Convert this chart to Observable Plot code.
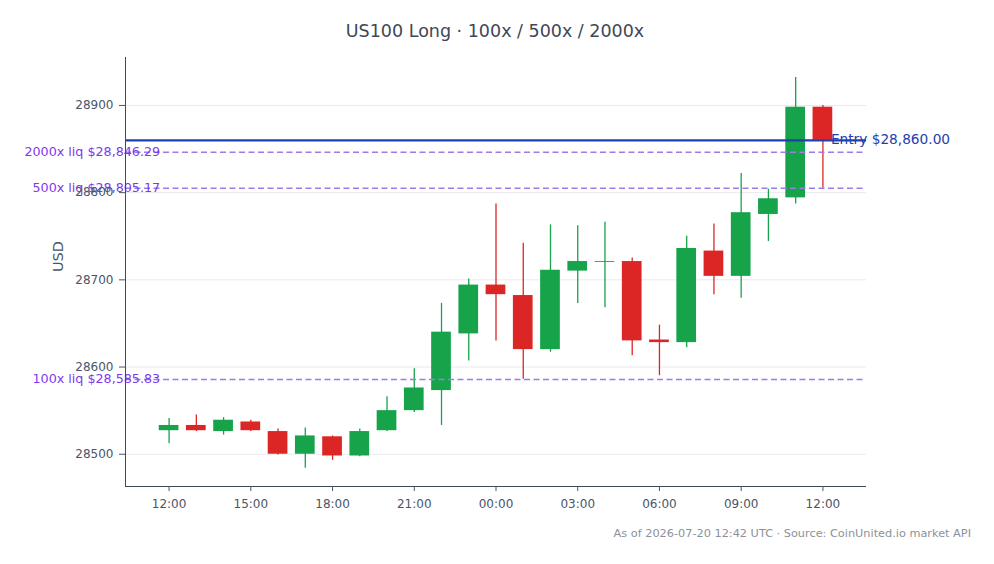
<!DOCTYPE html>
<html><head><meta charset="utf-8">
<script src="https://cdn.jsdelivr.net/npm/d3@7"></script>
<script src="https://cdn.jsdelivr.net/npm/@observablehq/plot@0.6"></script>
<style>
body{margin:0;background:#fff;font-family:"DejaVu Sans",sans-serif;}
#wrap{position:relative;width:994px;height:564px;overflow:hidden;background:#fff}
#title{position:absolute;left:0;width:990px;top:21px;text-align:center;font-size:17.5px;color:#3f4756;white-space:nowrap}
#cap{position:absolute;right:23px;top:527px;font-size:11.3px;color:#8b919a;white-space:nowrap}
#wrap svg{position:absolute;left:0;top:0}
</style></head>
<body><div id="wrap">
<div id="title">US100 Long · 100x / 500x / 2000x</div>
<div id="cap">As of 2026-07-20 12:42 UTC · Source: CoinUnited.io market API</div>
</div>
<script>
const times = ["2026-07-19T12:00Z","2026-07-19T13:00Z","2026-07-19T14:00Z","2026-07-19T15:00Z","2026-07-19T16:00Z","2026-07-19T17:00Z","2026-07-19T18:00Z","2026-07-19T19:00Z","2026-07-19T20:00Z","2026-07-19T21:00Z","2026-07-19T22:00Z","2026-07-19T23:00Z","2026-07-20T00:00Z","2026-07-20T01:00Z","2026-07-20T02:00Z","2026-07-20T03:00Z","2026-07-20T04:00Z","2026-07-20T05:00Z","2026-07-20T06:00Z","2026-07-20T07:00Z","2026-07-20T08:00Z","2026-07-20T09:00Z","2026-07-20T10:00Z","2026-07-20T11:00Z","2026-07-20T12:00Z"];
const opens  = [28527,28533,28526,28537,28526,28500,28520,28498,28527,28550,28573,28638,28694,28682,28620,28710,28720,28721,28631,28628,28733,28704,28775,28794,28898];
const highs  = [28541,28545,28542,28539,28529,28530,28521,28529,28566,28598,28673,28701,28787,28742,28763,28762,28766,28725,28648,28750,28764,28822,28804,28932,28900];
const lows   = [28512,28526,28522,28526,28499,28484,28493,28497,28526,28548,28533,28607,28630,28586,28617,28673,28668,28613,28590,28622,28683,28679,28744,28787,28805];
const closes = [28533,28527,28539,28527,28500,28521,28498,28526,28550,28576,28640,28694,28683,28620,28711,28721,28721,28630,28628,28736,28704,28777,28793,28898,28860];

const entryPrice = 28860.00;
const entryLabel = "Entry $28,860.00";
const liqPrices = [28585.83, 28805.17, 28846.29];
const liqLabels = ["100x liq $28,585.83", "500x liq $28,805.17", "2000x liq $28,846.29"];

const xTickLabels = ["2026-07-19T12:00Z","2026-07-19T15:00Z","2026-07-19T18:00Z","2026-07-19T21:00Z","2026-07-20T00:00Z","2026-07-20T03:00Z","2026-07-20T06:00Z","2026-07-20T09:00Z","2026-07-20T12:00Z"];
const yTicks = [28500, 28600, 28700, 28800, 28900];
const xDomain = ["2026-07-19T10:24Z", "2026-07-20T13:36Z"];
const yDomain = [28463, 28955];

const GREEN = "#16a34a", RED = "#dc2626";
const halfBody = 21.7 * 60 * 1000;

const candles = times.map((t, i) => ({t: new Date(t), o: opens[i], h: highs[i], l: lows[i], c: closes[i]}));
const liq = liqPrices.map((p, i) => ({price: p, label: liqLabels[i]}));
const firstT = new Date(times[0]);
const lastT = new Date(times[times.length - 1]);
const xd = xDomain.map(d => new Date(d));
const col = d => d.c >= d.o ? GREEN : RED;

const chart = Plot.plot({
  width: 994, height: 564,
  marginLeft: 125, marginRight: 128, marginTop: 57, marginBottom: 78,
  style: {fontFamily: "DejaVu Sans, sans-serif", fontSize: "12px", color: "#4a5568", background: "transparent"},
  x: {type: "utc", domain: xd},
  y: {domain: yDomain},
  marks: [
    Plot.gridY(yTicks, {stroke: "#e9eaf0", strokeOpacity: 1}),
    Plot.ruleX(candles, {x: "t", y1: "l", y2: "h", stroke: col, strokeWidth: 1.3}),
    Plot.rect(candles, {x1: d => new Date(+d.t - halfBody), x2: d => new Date(+d.t + halfBody), y1: "o", y2: "c", fill: col}),
    Plot.ruleY(liq, {y: "price", stroke: "#9f7aea", strokeWidth: 1.5, strokeDasharray: "6,3.5"}),
    Plot.ruleY([entryPrice], {stroke: "#1e40af", strokeWidth: 2.3}),
    Plot.text(liq, {x: () => firstT, y: "price", text: "label", textAnchor: "end", dx: -9, fill: "#7c3aed", fontSize: 12.7}),
    Plot.text([entryPrice], {x: () => lastT, y: d => d, text: () => entryLabel, textAnchor: "start", dx: 8, dy: -1, fill: "#1e40af", fontSize: 13.7}),
    Plot.ruleX([xd[0]], {stroke: "#3d4a5c"}),
    Plot.ruleY([yDomain[0]], {stroke: "#3d4a5c"}),
    Plot.axisY(yTicks, {tickFormat: d3.format("d"), tickSize: 6, tickPadding: 6, label: null}),
    Plot.axisX(xTickLabels.map(d => new Date(d)), {tickFormat: d3.utcFormat("%H:%M"), tickSize: 5, tickPadding: 8, label: null}),
    Plot.text(["USD"], {frameAnchor: "left", rotate: -90, dx: -67, fontSize: 14.5, fill: "#4a5568"})
  ]
});
document.getElementById("wrap").appendChild(chart);
</script>
</body></html>
